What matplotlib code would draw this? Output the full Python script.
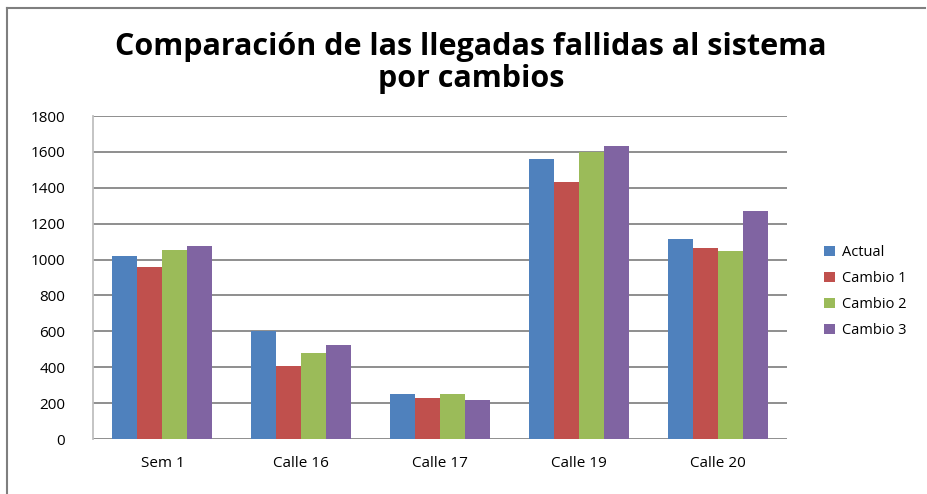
import numpy as np
import matplotlib.pyplot as plt
from matplotlib.lines import Line2D

plt.rcParams["font.family"] = ["Open Sans", "DejaVu Sans"]

# data
categorias = ["Sem 1", "Calle 16", "Calle 17", "Calle 19", "Calle 20"]
series = ["Actual", "Cambio 1", "Cambio 2", "Cambio 3"]
actual = [1020, 600, 250, 1562, 1116]
cambio1 = [961, 406, 227, 1434, 1065]
cambio2 = [1054, 479, 250, 1600, 1048]
cambio3 = [1076, 523, 216, 1631, 1272]
colores = ["#4f81bd", "#c0504d", "#9bbb59", "#8064a2"]

valores = [actual, cambio1, cambio2, cambio3]

fig = plt.figure(figsize=(9.27, 4.94), dpi=100)
ax = fig.add_axes([93 / 927, 1 - 439 / 494, 694 / 927, 323 / 494])

x = np.arange(len(categorias))
w = 0.18
for i, (serie, vals) in enumerate(zip(series, valores)):
    ax.bar(x + (i - 1.5) * w, vals, width=w, color=colores[i], label=serie, zorder=3)

ax.set_xlim(-0.5, len(categorias) - 0.5)
ax.set_ylim(0, 1800)
ax.set_yticks(np.arange(0, 1801, 200))
ax.yaxis.grid(True, color="#868686", linewidth=1.3, zorder=0)
ax.set_xticks(x)
ax.set_xticklabels(categorias)
ax.tick_params(axis="both", length=0, labelsize=11, colors="#000000")
ax.tick_params(axis="y", pad=20)
ax.tick_params(axis="x", pad=12)

for s in ["top", "right", "bottom"]:
    ax.spines[s].set_visible(False)
ax.spines["left"].set_color("#bfbfbf")
ax.spines["left"].set_linewidth(1.3)

fig.text(0.508, 1 - 63 / 494, "Comparación de las llegadas fallidas al sistema\npor cambios",
         ha="center", va="center", fontsize=22, fontweight="bold", linespacing=1.05)

leg = fig.legend(loc="upper left", bbox_to_anchor=(817 / 927, 1 - 238 / 494),
                 frameon=False, fontsize=10.5, handlelength=0.7, handleheight=0.7,
                 handletextpad=0.5, labelspacing=0.75, borderpad=0)

# chart frame (only left and top edges visible in the crop)
fig.add_artist(Line2D([7 / 927, 7 / 927], [0, 1 - 8 / 494], transform=fig.transFigure,
                      color="#7f7f7f", linewidth=1.5))
fig.add_artist(Line2D([7 / 927, 925 / 927], [1 - 8 / 494, 1 - 8 / 494], transform=fig.transFigure,
                      color="#7f7f7f", linewidth=1.5))

fig.savefig("out.png", dpi=100)
